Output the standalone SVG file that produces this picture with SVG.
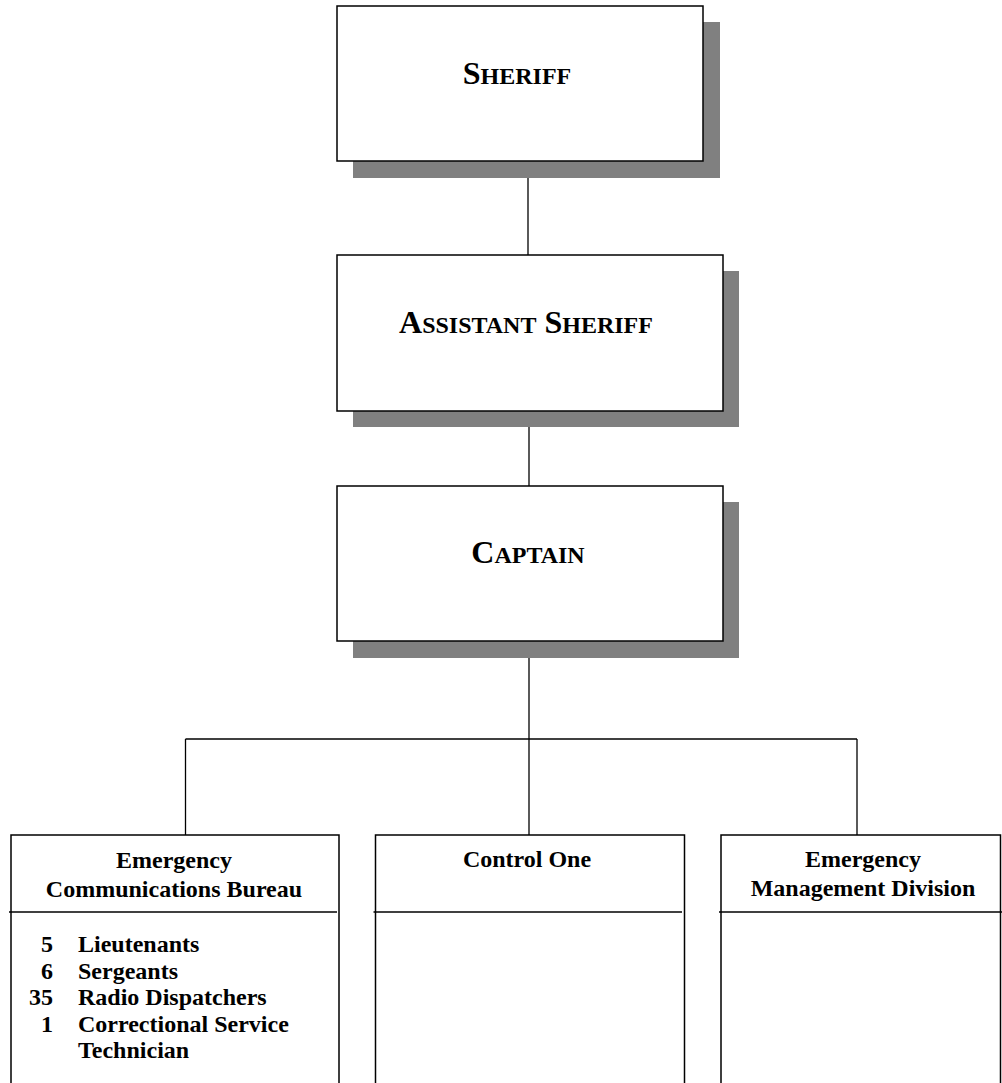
<svg xmlns="http://www.w3.org/2000/svg" width="1002" height="1083" viewBox="0 0 1002 1083">
<style>
.shadow{fill:#808080;stroke:none}
.box{fill:#fff;stroke:#000;stroke-width:1.5}
.line{stroke:#000;stroke-width:1.3;fill:none}
.t{font-family:"Liberation Serif","Times New Roman",serif;font-weight:bold;fill:#000}
.big{font-size:32px}
.sm{font-size:24px}
.lbl{font-size:24px}
</style>
<rect width="1002" height="1083" fill="#fff"/>
<g id="connectors">
<line class="line" x1="528" y1="161" x2="528" y2="255"/>
<line class="line" x1="529" y1="411" x2="529" y2="486"/>
<line class="line" x1="529" y1="641" x2="529" y2="835"/>
<line class="line" x1="185.5" y1="739" x2="857" y2="739"/>
<line class="line" x1="185.5" y1="739" x2="185.5" y2="835"/>
<line class="line" x1="857" y1="739" x2="857" y2="835"/>
</g>
<g id="sheriff">
<rect class="shadow" x="353" y="22" width="367" height="156"/>
<rect class="box" x="337" y="6" width="366" height="155"/>
<text class="t" x="517" y="84" text-anchor="middle"><tspan class="big">S</tspan><tspan class="sm">HERIFF</tspan></text>
</g>
<g id="assistant-sheriff">
<rect class="shadow" x="353" y="271" width="386" height="156"/>
<rect class="box" x="337" y="255" width="386" height="156"/>
<text class="t" x="526" y="333" text-anchor="middle"><tspan class="big">A</tspan><tspan class="sm">SSISTANT</tspan><tspan class="big"> S</tspan><tspan class="sm">HERIFF</tspan></text>
</g>
<g id="captain">
<rect class="shadow" x="353" y="502" width="386" height="156"/>
<rect class="box" x="337" y="486" width="386" height="155"/>
<text class="t" x="528" y="563" text-anchor="middle"><tspan class="big">C</tspan><tspan class="sm">APTAIN</tspan></text>
</g>
<g id="ecb">
<path class="box" d="M11,1090 V835 H339 V1090"/>
<line class="line" x1="9" y1="912" x2="337" y2="912"/>
<text class="t lbl" x="174" y="868" text-anchor="middle">Emergency</text>
<text class="t lbl" x="174" y="897" text-anchor="middle">Communications Bureau</text>
<text class="t lbl" x="53" y="952" text-anchor="end">5</text>
<text class="t lbl" x="78" y="952">Lieutenants</text>
<text class="t lbl" x="53" y="978.5" text-anchor="end">6</text>
<text class="t lbl" x="78" y="978.5">Sergeants</text>
<text class="t lbl" x="53" y="1005" text-anchor="end">35</text>
<text class="t lbl" x="78" y="1005">Radio Dispatchers</text>
<text class="t lbl" x="53" y="1031.5" text-anchor="end">1</text>
<text class="t lbl" x="78" y="1031.5">Correctional Service</text>
<text class="t lbl" x="78" y="1058">Technician</text>
</g>
<g id="control-one">
<path class="box" d="M375.5,1090 V835 H684.5 V1090"/>
<line class="line" x1="373.5" y1="912" x2="682" y2="912"/>
<text class="t lbl" x="527" y="867" text-anchor="middle">Control One</text>
</g>
<g id="emd">
<path class="box" d="M721,1090 V835 H1000.5 V1090"/>
<line class="line" x1="719" y1="912" x2="1002" y2="912"/>
<text class="t lbl" x="863" y="867" text-anchor="middle">Emergency</text>
<text class="t lbl" x="863" y="896" text-anchor="middle">Management Division</text>
</g>
</svg>
